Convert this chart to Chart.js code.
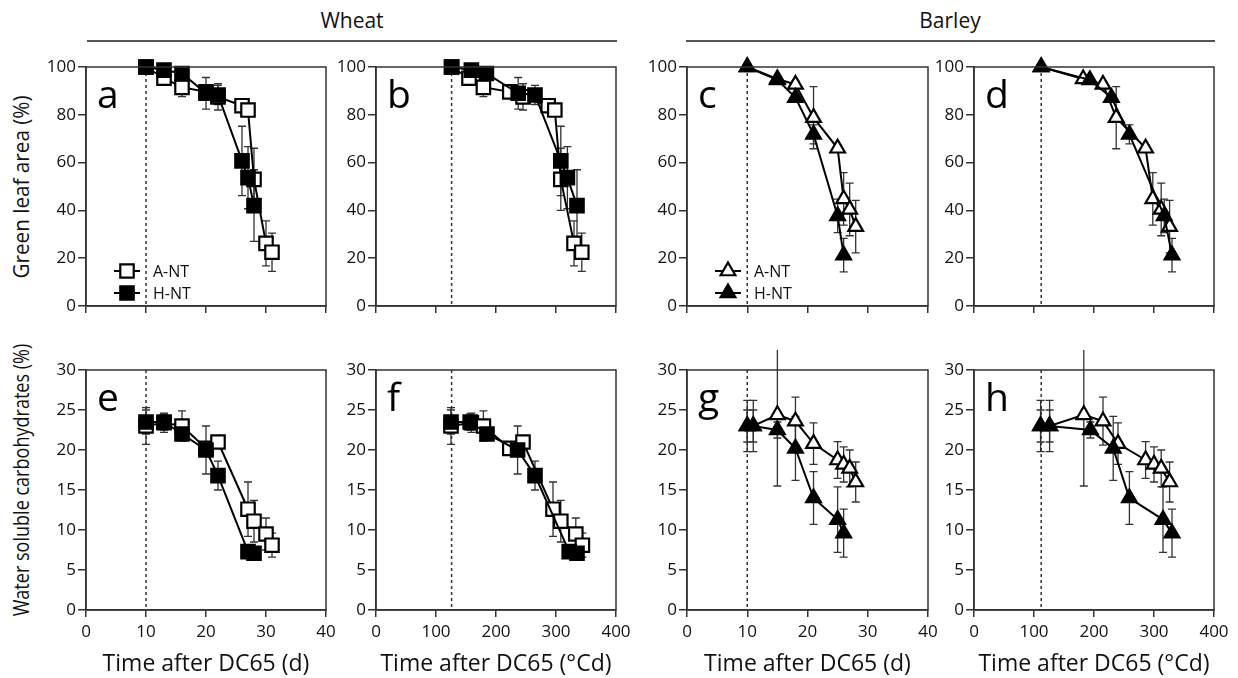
<!DOCTYPE html>
<html>
<head>
<meta charset="utf-8">
<script src="https://cdn.jsdelivr.net/npm/chart.js@4.4.1/dist/chart.umd.min.js"></script>
<style>
  body { margin: 0; background: #fff; width: 1238px; height: 678px; position: relative; overflow: hidden; font-family: "Open Sans", sans-serif; color: #111; }
  canvas.panel { position: absolute; }
  .hdr { position: absolute; width: 300px; font-size: 21px; text-align: center; line-height: 26px; }
  .rule { position: absolute; height: 2px; background: #555; }
  .ytitle { position: absolute; width: 400px; height: 28px; line-height: 28px; font-size: 22px; text-align: center; white-space: nowrap; }
</style>
</head>
<body>
<div class="hdr" style="left:202px;top:7px">Wheat</div>
<div class="rule" style="left:87px;top:40px;width:530px"></div>
<div class="hdr" style="left:800px;top:7px">Barley</div>
<div class="rule" style="left:686px;top:40px;width:529px"></div>
<div class="ytitle" style="left:-180px;top:173px;transform:rotate(-90deg) scaleX(0.94)">Green leaf area (%)</div>
<div class="ytitle" style="left:-180px;top:466px;transform:rotate(-90deg) scaleX(0.82)">Water soluble carbohydrates (%)</div>

<script>
// ---- data ----
const seriesNames = ['A-NT', 'H-NT'];
const markerDay = 10;          // DC65 + 10 d
const markerCdWheat = 126;
const markerCdBarley = 112;

// Wheat, green leaf area
const glaWheatA_d  = [10, 13, 16, 20, 22, 26, 27, 28, 30, 31];
const glaWheatA_cd = [126, 155, 179, 223, 245, 287, 298, 308, 330, 343];
const glaWheatA    = [100, 95.3, 91.5, 89.6, 87.5, 83.8, 82, 53, 26.2, 22.5];
const glaWheatA_e  = [0, 2, 3.9, 2.5, 5.5, 1.5, 1.5, 13, 9.4, 8];
const glaWheatH_d  = [10, 13, 16, 20, 22, 26, 27, 28];
const glaWheatH_cd = [126, 159, 184, 237, 265, 308, 319, 335];
const glaWheatH    = [100, 98.7, 97.3, 89, 88.3, 60.7, 53.7, 42];
const glaWheatH_e  = [0, 1, 1.5, 6.6, 4, 14.5, 13, 15];

// Barley, green leaf area
const glaBarleyA_d  = [10, 15, 18, 21, 25, 26, 27, 28];
const glaBarleyA_cd = [112, 182, 215, 237, 286, 298, 312, 326];
const glaBarleyA    = [100, 95, 92.7, 78.8, 66, 44.8, 40.4, 33.2];
const glaBarleyA_e  = [0, 1, 1.5, 13, 1.5, 11, 11, 11];
const glaBarleyH_d  = [10, 15, 18, 21, 25, 26];
const glaBarleyH_cd = [112, 193, 229, 259, 317, 330];
const glaBarleyH    = [100, 94.6, 87.2, 71.8, 37.7, 21.3];
const glaBarleyH_e  = [0, 1, 1.5, 4, 7, 7];

// Wheat, water soluble carbohydrates
const wscWheatA_d  = [10, 13, 16, 20, 22, 27, 28, 30, 31];
const wscWheatA_cd = [125, 159, 179, 223, 245, 295, 308, 333, 344];
const wscWheatA    = [23, 23.4, 23, 20.2, 21, 12.6, 11.1, 9.5, 8.1];
const wscWheatA_e  = [2.3, 1.2, 1.9, 0.8, 0.6, 3.4, 2.6, 2, 1.5];
const wscWheatH_d  = [10, 13, 16, 20, 22, 27, 28];
const wscWheatH_cd = [125, 157, 185, 236, 265, 322, 335];
const wscWheatH    = [23.5, 23.5, 22, 20, 16.8, 7.3, 7.1];
const wscWheatH_e  = [1.5, 1, 0.6, 3, 1.8, 0.5, 0.4];

// Barley, water soluble carbohydrates
const wscBarleyA_d  = [10, 11, 15, 18, 21, 25, 26, 27, 28];
const wscBarleyA_cd = [111, 126, 183, 215, 240, 286, 300, 312, 326];
const wscBarleyA    = [23, 23, 24.4, 23.6, 20.8, 18.75, 18.2, 17.7, 16];
const wscBarleyA_e  = [2, 2, 8.9, 3, 2.6, 2.3, 2.2, 2.3, 2.5];
const wscBarleyH_d  = [10, 11, 15, 18, 21, 25, 26];
const wscBarleyH_cd = [111, 126, 194, 232, 259, 315, 330];
const wscBarleyH    = [23, 23, 22.5, 20.2, 14, 11.3, 9.6];
const wscBarleyH_e  = [3.2, 3.2, 1, 4, 3.3, 4.1, 3];

const dayTicks = [0, 40, 10];
const cdTicks = [0, 400, 100];
const glaTicks = [0, 100, 20];
const wscTicks = [0, 30, 5];

// ---- plugins ----
const pts = (xs, ys) => xs.map((v, i) => ({ x: v, y: ys[i] }));

const errorBars = {
  id: 'errorBars',
  beforeDatasetsDraw(chart) {
    const { ctx, scales: { x, y } } = chart;
    ctx.save();
    ctx.strokeStyle = '#333';
    ctx.lineWidth = 1.3;
    chart.data.datasets.forEach(ds => {
      if (!ds.errors) return;
      ds.data.forEach((p, i) => {
        const e = ds.errors[i];
        if (!e) return;
        const px = x.getPixelForValue(p.x);
        const t = y.getPixelForValue(p.y + e);
        const b = y.getPixelForValue(p.y - e);
        ctx.beginPath();
        ctx.moveTo(px, t); ctx.lineTo(px, b);
        ctx.moveTo(px - 4, t); ctx.lineTo(px + 4, t);
        ctx.moveTo(px - 4, b); ctx.lineTo(px + 4, b);
        ctx.stroke();
      });
    });
    ctx.restore();
  }
};

const decor = {
  id: 'decor',
  beforeDatasetsDraw(chart, args, opts) {
    const { ctx, chartArea: a, scales: { x } } = chart;
    const mx = x.getPixelForValue(opts.marker);
    ctx.save();
    ctx.strokeStyle = '#333';
    ctx.lineWidth = 1.5;
    ctx.setLineDash([3, 3]);
    ctx.beginPath();
    ctx.moveTo(mx, a.top); ctx.lineTo(mx, a.bottom);
    ctx.stroke();
    ctx.restore();
  },
  afterDraw(chart, args, opts) {
    const { ctx, chartArea: a } = chart;
    ctx.save();
    ctx.strokeStyle = '#333';
    ctx.lineWidth = 1.5;
    ctx.strokeRect(a.left, a.top, a.right - a.left, a.bottom - a.top);
    ctx.fillStyle = '#000';
    ctx.font = '39px "Open Sans"';
    ctx.textBaseline = 'alphabetic';
    ctx.fillText(opts.letter, a.left + 11, a.top + 41);
    if (opts.legend) {
      const rows = [chart.data.datasets[1], chart.data.datasets[0]];
      rows.forEach((ds, k) => {
        const yy = a.bottom - 35 + k * 22;
        ctx.strokeStyle = '#000';
        ctx.lineWidth = 2;
        ctx.beginPath();
        ctx.moveTo(a.left + 28, yy); ctx.lineTo(a.left + 54, yy);
        ctx.stroke();
        ctx.fillStyle = ds.pointBackgroundColor;
        ctx.lineWidth = ds.pointBorderWidth;
        Chart.helpers.drawPoint(ctx, { pointStyle: ds.pointStyle, radius: ds.pointRadius, rotation: 0, borderWidth: ds.pointBorderWidth }, a.left + 41, yy);
        ctx.fillStyle = '#111';
        ctx.font = '16px "Open Sans"';
        ctx.textBaseline = 'middle';
        ctx.fillText(ds.label, a.left + 67, yy + 1);
      });
    }
    ctx.restore();
  }
};

// ---- panels ----
function makePanel(p) {
  const padL = 60, padT = 20, padR = 20;
  const padB = p.bottomRow ? 678 - p.bottom : 20;
  const cv = document.createElement('canvas');
  cv.className = 'panel';
  const w = p.right - p.left + padL + padR;
  const h = p.bottom - p.top + padT + padB;
  cv.width = w; cv.height = h;
  cv.style.left = (p.left - padL) + 'px';
  cv.style.top = (p.top - padT) + 'px';
  cv.style.width = w + 'px';
  cv.style.height = h + 'px';
  document.body.appendChild(cv);

  const tri = p.shape === 'triangle';
  const r = tri ? 8.5 : 9.5;
  const mk = (label, xs, ys, es, fill) => ({
    label, data: pts(xs, ys), errors: es,
    borderColor: '#000', borderWidth: 2,
    pointStyle: p.shape, pointRadius: r, pointHoverRadius: r,
    pointBackgroundColor: fill, pointBorderColor: '#000', pointBorderWidth: 2.2,
    clip: false, tension: 0
  });

  new Chart(cv, {
    type: 'line',
    data: {
      datasets: [
        mk(seriesNames[1], p.xH, p.yH, p.eH, '#000'),
        mk(seriesNames[0], p.xA, p.yA, p.eA, '#fff')
      ]
    },
    options: {
      responsive: false,
      animation: false,
      events: [],
      layout: { padding: { top: padT, right: padR, left: 0, bottom: 0 } },
      plugins: {
        legend: { display: false },
        tooltip: { enabled: false },
        decor: { letter: p.letter, marker: p.marker, legend: p.legend }
      },
      scales: {
        x: {
          type: 'linear', min: p.xt[0], max: p.xt[1],
          ticks: { stepSize: p.xt[2], display: !!p.bottomRow, color: '#111', padding: 5, font: { family: 'Open Sans', size: 17 } },
          grid: { drawOnChartArea: false, drawTicks: true, tickLength: 7, color: '#333', lineWidth: 1.5 },
          border: { color: '#333', width: 1.5 },
          title: { display: !!p.bottomRow, text: p.xTitle, color: '#111', font: { family: 'Open Sans', size: 23 }, padding: { top: 0, bottom: 0 } },
          afterFit(s) { s.height = padB; }
        },
        y: {
          type: 'linear', min: p.yt[0], max: p.yt[1],
          ticks: { stepSize: p.yt[2], color: '#111', padding: 2, font: { family: 'Open Sans', size: 17 } },
          grid: { drawOnChartArea: false, drawTicks: true, tickLength: 8, color: '#333', lineWidth: 1.5 },
          border: { color: '#333', width: 1.5 },
          afterFit(s) { s.width = padL; }
        }
      }
    },
    plugins: [errorBars, decor]
  });
}

const titleD = 'Time after DC65 (d)';
const titleCd = 'Time after DC65 (\u00B0Cd)';
const rowTop = { top: 67, bottom: 306 };
const rowBot = { top: 370, bottom: 610, bottomRow: true };
const colA = { left: 86, right: 326 }, colB = { left: 376, right: 616 };
const colC = { left: 687, right: 928 }, colD = { left: 974, right: 1214 };

makePanel({ ...rowTop, ...colA, letter: 'a', shape: 'rect', legend: true, xt: dayTicks, yt: glaTicks, marker: markerDay,
  xA: glaWheatA_d, yA: glaWheatA, eA: glaWheatA_e, xH: glaWheatH_d, yH: glaWheatH, eH: glaWheatH_e });
makePanel({ ...rowTop, ...colB, letter: 'b', shape: 'rect', xt: cdTicks, yt: glaTicks, marker: markerCdWheat,
  xA: glaWheatA_cd, yA: glaWheatA, eA: glaWheatA_e, xH: glaWheatH_cd, yH: glaWheatH, eH: glaWheatH_e });
makePanel({ ...rowTop, ...colC, letter: 'c', shape: 'triangle', legend: true, xt: dayTicks, yt: glaTicks, marker: markerDay,
  xA: glaBarleyA_d, yA: glaBarleyA, eA: glaBarleyA_e, xH: glaBarleyH_d, yH: glaBarleyH, eH: glaBarleyH_e });
makePanel({ ...rowTop, ...colD, letter: 'd', shape: 'triangle', xt: cdTicks, yt: glaTicks, marker: markerCdBarley,
  xA: glaBarleyA_cd, yA: glaBarleyA, eA: glaBarleyA_e, xH: glaBarleyH_cd, yH: glaBarleyH, eH: glaBarleyH_e });

makePanel({ ...rowBot, ...colA, letter: 'e', shape: 'rect', xt: dayTicks, yt: wscTicks, marker: markerDay, xTitle: titleD,
  xA: wscWheatA_d, yA: wscWheatA, eA: wscWheatA_e, xH: wscWheatH_d, yH: wscWheatH, eH: wscWheatH_e });
makePanel({ ...rowBot, ...colB, letter: 'f', shape: 'rect', xt: cdTicks, yt: wscTicks, marker: markerCdWheat, xTitle: titleCd,
  xA: wscWheatA_cd, yA: wscWheatA, eA: wscWheatA_e, xH: wscWheatH_cd, yH: wscWheatH, eH: wscWheatH_e });
makePanel({ ...rowBot, ...colC, letter: 'g', shape: 'triangle', xt: dayTicks, yt: wscTicks, marker: markerDay, xTitle: titleD,
  xA: wscBarleyA_d, yA: wscBarleyA, eA: wscBarleyA_e, xH: wscBarleyH_d, yH: wscBarleyH, eH: wscBarleyH_e });
makePanel({ ...rowBot, ...colD, letter: 'h', shape: 'triangle', xt: cdTicks, yt: wscTicks, marker: markerCdBarley, xTitle: titleCd,
  xA: wscBarleyA_cd, yA: wscBarleyA, eA: wscBarleyA_e, xH: wscBarleyH_cd, yH: wscBarleyH, eH: wscBarleyH_e });
</script>
</body>
</html>
